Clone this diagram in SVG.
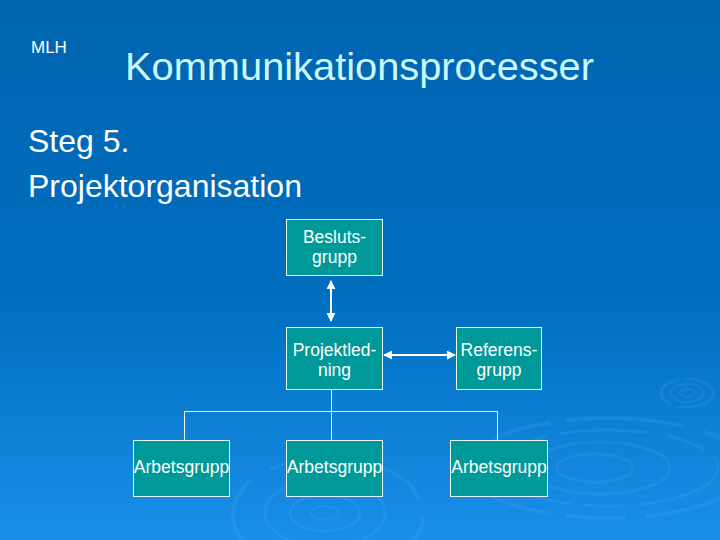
<svg xmlns="http://www.w3.org/2000/svg" width="720" height="540" viewBox="0 0 720 540">
<defs>
<linearGradient id="bg" x1="0" y1="0" x2="0" y2="1">
<stop offset="0" stop-color="#0065b0"/>
<stop offset="0.55" stop-color="#006ec0"/>
<stop offset="1" stop-color="#1a8fe8"/>
</linearGradient>
<marker id="ah" viewBox="0 0 10 10" refX="9" refY="5" markerWidth="4.5" markerHeight="4.5" orient="auto-start-reverse">
<path d="M0,0 L10,5 L0,10 z" fill="#ffffff"/>
</marker>
<style>
.box{fill:#009999;stroke:#e8ffff;stroke-width:1}
.lbl{font-family:"Liberation Sans",Arial,sans-serif;font-size:17.5px;fill:#ffffff;text-anchor:middle}
.rip{fill:none;stroke:#5ab4f5;stroke-opacity:0.16}
.tree{fill:none;stroke:#e8ffff;stroke-width:1}
.arr{fill:none;stroke:#ffffff;stroke-width:2}
</style>
</defs>
<rect width="720" height="540" fill="url(#bg)"/>
<g id="ripples">
<ellipse class="rip" cx="608" cy="468" rx="140" ry="50" stroke-width="4" stroke-dasharray="120 20 60 15"/>
<ellipse class="rip" cx="608" cy="468" rx="110" ry="38" stroke-width="3" stroke-dasharray="90 18 40 12"/>
<ellipse class="rip" cx="600" cy="468" rx="70" ry="26" stroke-width="3"/>
<ellipse class="rip" cx="595" cy="468" rx="38" ry="14" stroke-width="3"/>
<ellipse class="rip" cx="687" cy="393" rx="26" ry="14" stroke-width="3" stroke-dasharray="40 8"/>
<ellipse class="rip" cx="687" cy="393" rx="16" ry="9" stroke-width="2"/>
<ellipse class="rip" cx="687" cy="393" rx="7" ry="4" stroke-width="2"/>
<ellipse class="rip" cx="328" cy="515" rx="95" ry="58" stroke-width="4" stroke-dasharray="100 20 50 15"/>
<ellipse class="rip" cx="325" cy="513" rx="60" ry="34" stroke-width="3"/>
<ellipse class="rip" cx="325" cy="513" rx="35" ry="18" stroke-width="3"/>
<ellipse class="rip" cx="325" cy="513" rx="14" ry="7" stroke-width="2"/>
</g>
<text x="31" y="53" font-family="'Liberation Sans',Arial,sans-serif" font-size="17" fill="#ffffff">MLH</text>
<text x="125" y="80" font-family="'Liberation Sans',Arial,sans-serif" font-size="39" fill="#ccf7ff" textLength="469" lengthAdjust="spacingAndGlyphs">Kommunikationsprocesser</text>
<text x="28" y="152" font-family="'Liberation Sans',Arial,sans-serif" font-size="32" fill="#ffffff">Steg 5.</text>
<text x="28" y="197" font-family="'Liberation Sans',Arial,sans-serif" font-size="32" fill="#ffffff">Projektorganisation</text>
<g id="connectors">
<line class="arr" x1="331" y1="281" x2="331" y2="321" marker-start="url(#ah)" marker-end="url(#ah)"/>
<line class="arr" x1="384" y1="355" x2="455" y2="355" marker-start="url(#ah)" marker-end="url(#ah)"/>
<path class="tree" d="M331.5,389 V411.5 M184.5,440 V411.5 H497.5 V440 M331.5,411.5 V440"/>
</g>
<g id="beslutsgrupp">
<rect class="box" x="286.5" y="219.5" width="96" height="56"/>
<text class="lbl" x="334.5" y="243">Besluts-</text>
<text class="lbl" x="334.5" y="263">grupp</text>
</g>
<g id="projektledning">
<rect class="box" x="286.5" y="327.5" width="96" height="62"/>
<text class="lbl" x="334.5" y="356">Projektled-</text>
<text class="lbl" x="334.5" y="376">ning</text>
</g>
<g id="referensgrupp">
<rect class="box" x="456.5" y="327.5" width="85" height="62"/>
<text class="lbl" x="499" y="356">Referens-</text>
<text class="lbl" x="499" y="376">grupp</text>
</g>
<g id="arbetsgrupp1">
<rect class="box" x="133.5" y="440.5" width="96" height="56"/>
<text class="lbl" x="181.5" y="473">Arbetsgrupp</text>
</g>
<g id="arbetsgrupp2">
<rect class="box" x="286.5" y="440.5" width="96" height="56"/>
<text class="lbl" x="334.5" y="473">Arbetsgrupp</text>
</g>
<g id="arbetsgrupp3">
<rect class="box" x="450.5" y="440.5" width="97" height="56"/>
<text class="lbl" x="499" y="473">Arbetsgrupp</text>
</g>
</svg>
